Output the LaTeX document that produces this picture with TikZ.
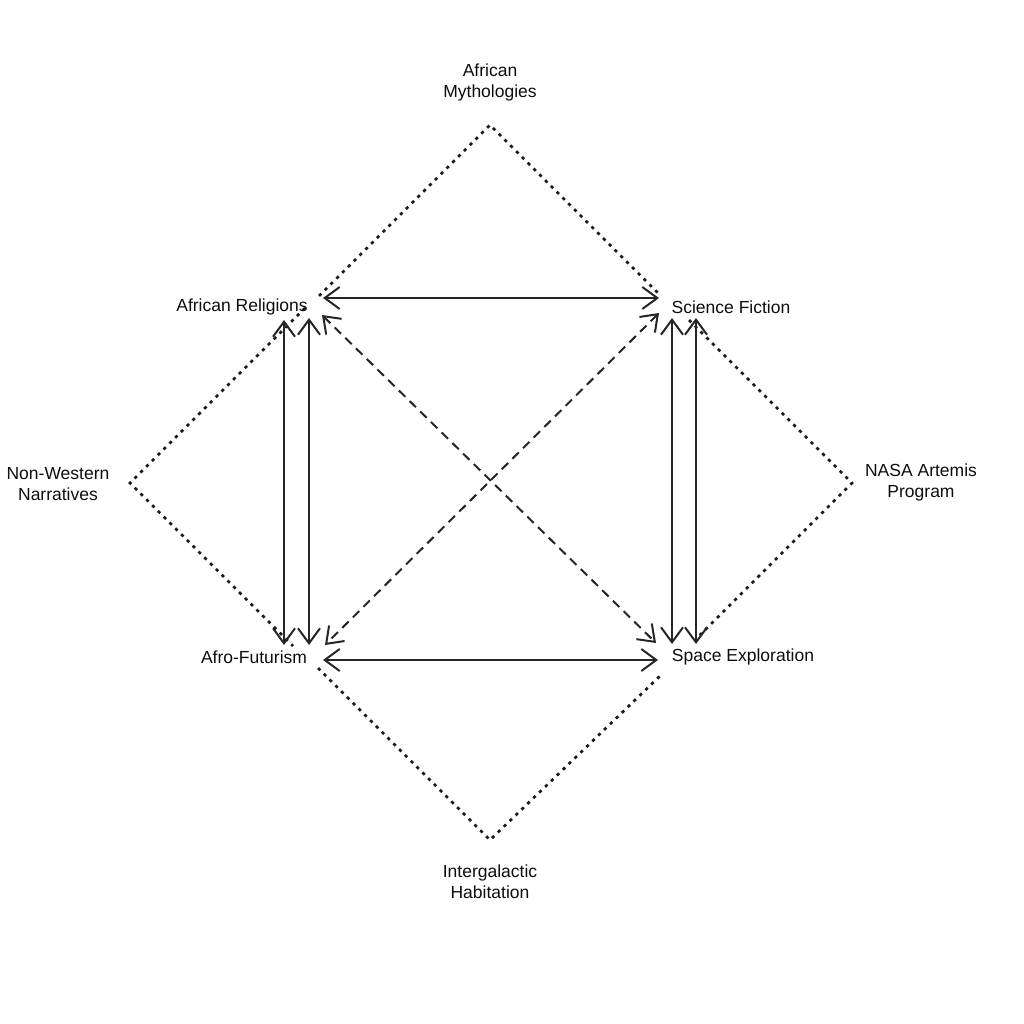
\documentclass[tikz,border=0pt]{standalone}
\usepackage{fontspec}
\setmainfont{Liberation Sans}
\usetikzlibrary{arrows.meta}
\begin{document}
\begin{tikzpicture}[x=1pt,y=-1pt,
  lbl/.style={font=\fontsize{17.5}{21}\selectfont, text=black!95, align=center, inner sep=0pt},
  link/.style={line width=2pt, draw=black!85, {Straight Barb[length=15pt,width=22pt,line width=2pt]}-{Straight Barb[length=15pt,width=22pt,line width=2pt]}},
  dlink/.style={link, dash pattern=on 9pt off 6pt},
  dotline/.style={line width=2.7pt, draw=black!90, dash pattern=on 3.2pt off 5pt}]
\useasboundingbox (0,0) rectangle (1024,1024);
% labels
\node[lbl] (am) at (490,82) {African\\Mythologies};
\node[lbl] (nw) at (58,484) {Non-Western\\Narratives};
\node[lbl] (na) at (921,482) {NASA Artemis\\Program};
\node[lbl] (ih) at (490,882) {Intergalactic\\Habitation};
\node[lbl] (ar) at (242,307) {African Religions};
\node[lbl] (sf) at (731,307) {Science Fiction};
\node[lbl] (af) at (254,657) {Afro-Futurism};
\node[lbl] (se) at (743,657) {Space Exploration};
% corner points
\coordinate (tp) at (490,125);
\coordinate (lp) at (130,483);
\coordinate (rp) at (852,483);
\coordinate (bp) at (490,840);
% endpoints near African Religions
\coordinate (arh) at (323,298);
\coordinate (arv1) at (284,320);
\coordinate (arv2) at (309,318);
\coordinate (ard) at (322,315);
\coordinate (art) at (319,296);
\coordinate (arl) at (305,308);
% Science Fiction
\coordinate (sfh) at (659,298);
\coordinate (sfv1) at (672,318);
\coordinate (sfv2) at (696,318);
\coordinate (sfd) at (659,313);
\coordinate (sft) at (661,296);
\coordinate (sfr) at (689,320);
% Afro-Futurism
\coordinate (afh) at (323,660);
\coordinate (afv1) at (284,645);
\coordinate (afv2) at (309,645);
\coordinate (afd) at (325,645);
\coordinate (afl) at (293,646);
\coordinate (afb) at (318,668);
% Space Exploration
\coordinate (seh) at (658,660);
\coordinate (sev1) at (672,644);
\coordinate (sev2) at (696,644);
\coordinate (sed) at (656,643);
\coordinate (ser) at (697,638);
\coordinate (seb) at (662,674);
% dotted diamonds
\draw[dotline] (art) -- (tp) -- (sft);
\draw[dotline] (arl) -- (lp) -- (afl);
\draw[dotline] (sfr) -- (rp) -- (ser);
\draw[dotline] (afb) -- (bp) -- (seb);
% solid arrows
\draw[link] (arh) -- (sfh);
\draw[link] (afh) -- (seh);
\draw[link] (arv1) -- (afv1);
\draw[link] (arv2) -- (afv2);
\draw[link] (sfv1) -- (sev1);
\draw[link] (sfv2) -- (sev2);
% dashed diagonals
\draw[dlink] (ard) -- (sed);
\draw[dlink] (sfd) -- (afd);
\end{tikzpicture}
\end{document}
